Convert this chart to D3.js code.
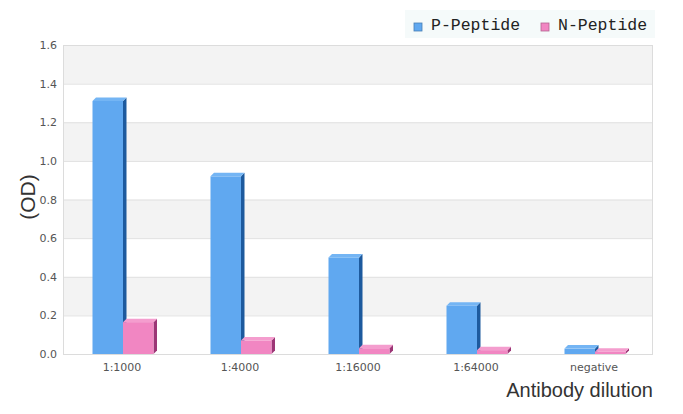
<!DOCTYPE html>
<html><head><meta charset="utf-8">
<script src="https://cdn.jsdelivr.net/npm/d3@7"></script>
<style>body{margin:0;background:#fff}</style>
</head><body><svg id="c" width="683" height="414"></svg>
<script>
const categories = ["1:1000","1:4000","1:16000","1:64000","negative"];
const seriesNames = ["P-Peptide","N-Peptide"];
const pPeptide = [1.31, 0.92, 0.50, 0.25, 0.028];
const nPeptide = [0.165, 0.07, 0.03, 0.02, 0.012];
const yTicks = [0.0,0.2,0.4,0.6,0.8,1.0,1.2,1.4,1.6];

const colors = [
  {front:"#60a8f0", side:"#1d5a9e", top:"#74b5f4"},
  {front:"#f186c2", side:"#9c3676", top:"#f49dce"}
];
const svg = d3.select("#c");
const L=63,R=653,T=45,B=354;
const x = d3.scaleBand().domain(categories).range([L,R]);
const y = d3.scaleLinear().domain([0,1.6]).range([B,T]);

// bands
for (let i=0;i<yTicks.length-1;i++){
  svg.append("rect").attr("x",L).attr("width",R-L)
    .attr("y",y(yTicks[i+1])).attr("height",y(yTicks[i])-y(yTicks[i+1]))
    .attr("fill", (i%2===1)?"#f3f3f3":"#ffffff");
}
svg.selectAll(".grid").data(yTicks).enter().append("line")
  .attr("x1",L).attr("x2",R).attr("y1",d=>y(d)+0.5).attr("y2",d=>y(d)+0.5)
  .attr("stroke","#e0e0e0");
svg.append("rect").attr("x",L+0.5).attr("y",T+0.5).attr("width",R-L-1).attr("height",B-T)
  .attr("fill","none").attr("stroke","#dcdcdc");

// y axis labels
const yAxis = d3.axisLeft(y).tickValues(yTicks).tickFormat(d3.format(".1f")).tickSize(0).tickPadding(6);
const ya = svg.append("g").attr("transform",`translate(${L},0)`).call(yAxis);
ya.select(".domain").remove();
ya.selectAll("text").attr("font-family","DejaVu Sans").attr("font-size",11).attr("fill","#555");

const xAxis = d3.axisBottom(x).tickSize(0).tickPadding(9);
const xa = svg.append("g").attr("transform",`translate(0,${B})`).call(xAxis);
xa.select(".domain").remove();
xa.selectAll("text").attr("font-family","DejaVu Sans").attr("font-size",11).attr("fill","#555");

// bars
const bw = 30.5, d = 3.5;
const series = [pPeptide, nPeptide];
series.forEach((vals, si) => {
  const g = svg.append("g");
  categories.forEach((c, ci) => {
    const cx = x(c) + x.bandwidth()/2 + 1;
    const x0 = cx - bw + si*bw, x1 = x0 + bw;
    const yt = y(vals[ci]), y0 = B;
    g.append("path").attr("d",`M${x1},${yt}L${x1+d},${yt-d}L${x1+d},${y0-d}L${x1},${y0}Z`).attr("fill",colors[si].side);
    g.append("rect").attr("x",x0).attr("y",yt).attr("width",bw).attr("height",y0-yt).attr("fill",colors[si].front);
    g.append("path").attr("d",`M${x0},${yt}L${x1},${yt}L${x1+d},${yt-d}L${x0+d},${yt-d}Z`).attr("fill",colors[si].top);
  });
});

// axis titles
svg.append("text").attr("x",653).attr("y",397).attr("text-anchor","end")
  .attr("font-family","Liberation Sans, Arial").attr("font-size",20).attr("fill","#333").text("Antibody dilution");
svg.append("text").attr("transform","translate(35,197) rotate(-90)").attr("text-anchor","middle")
  .attr("font-family","Liberation Sans, Arial").attr("font-size",21).attr("fill","#333").text("(OD)");

// legend
const lg = svg.append("g");
lg.append("rect").attr("x",405).attr("y",10).attr("width",250).attr("height",28).attr("fill","#f5fafa");
const lx = [414, 541];
seriesNames.forEach((n,i)=>{
  lg.append("rect").attr("x",lx[i]).attr("y",23).attr("width",8).attr("height",8)
    .attr("fill",colors[i].front).attr("stroke",d3.color(colors[i].front).darker(0.8)).attr("stroke-width",0.8);
  lg.append("text").attr("x",lx[i]+17).attr("y",30).attr("font-family","Liberation Mono, DejaVu Sans Mono").attr("font-size",16.5).attr("fill","#222").text(n);
});
</script></body></html>
